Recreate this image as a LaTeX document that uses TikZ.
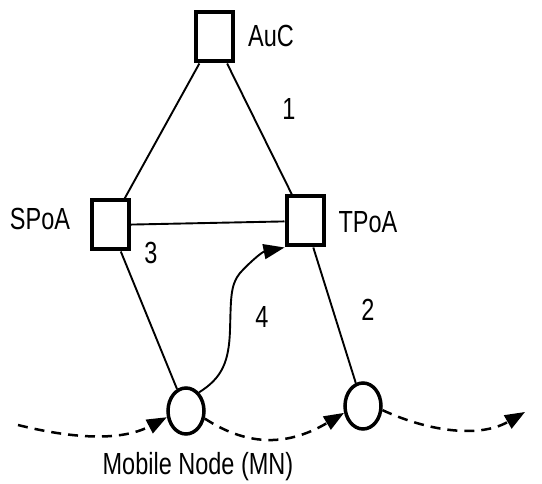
\documentclass[tikz,border=0pt]{standalone}
\usepackage{fontspec}
\setmainfont{Liberation Sans}
\usetikzlibrary{shapes.geometric,arrows.meta}
\newcommand\tallText[1]{\scalebox{1}[1.3]{#1}}
\begin{document}
\begin{tikzpicture}[x=1pt,y=-1pt,
  box/.style={draw, rectangle, line width=4pt, minimum width=37pt, minimum height=49pt, inner sep=0pt},
  host/.style={draw, ellipse, line width=3.5pt, minimum width=36pt, minimum height=46pt, inner sep=0pt},
  link/.style={line width=1.9pt},
  lbl/.style={inner sep=0pt, font=\fontsize{23.5}{23.5}\selectfont},
  move/.style={line width=2.5pt, dash pattern=on 10pt off 7pt, -{Triangle[length=20pt,width=15pt]}},
  handover/.style={line width=1.9pt, -{Triangle[length=21pt,width=15pt]}}]
\useasboundingbox (0,0) rectangle (542,484);

% access network entities
\node[box] (auc)  at (214,37)  {};
\node[box] (spoa) at (110,225) {};
\node[box] (tpoa) at (305,221) {};

% mobile node, before and after handover
\node[host] (mn)  at (186,411) {};
\node[host] (mn2) at (363,406) {};

% names
\node[lbl] (auclbl)  at (271,36)  {\tallText{AuC}};
\node[lbl] (spoalbl) at (40,219)  {\tallText{SPoA}};
\node[lbl] (tpoalbl) at (368,222) {\tallText{TPoA}};
\node[lbl] (mnlbl)   at (198,467) {\tallText{Mobile Node (MN)}};

% step numbers
\node[lbl] (n1) at (289,109) {\tallText{1}};
\node[lbl] (n2) at (368,310) {\tallText{2}};
\node[lbl] (n3) at (151,253) {\tallText{3}};
\node[lbl] (n4) at (262,317) {\tallText{4}};

% links
\draw[link] (auc) -- (spoa);
\draw[link] (auc) -- (tpoa);
\draw[link] (spoa) -- (tpoa);
\draw[link] (spoa) -- (mn);
\draw[link] (tpoa) -- (mn2);

% handover signalling
\draw[handover] (mn.55) .. controls (222,378) and (229,362) .. (230,330)
  .. controls (231,300) and (230,285) .. (240,273)
  .. controls (250,262) and (262,252) .. (tpoa.south west);

% movement path
\coordinate (start) at (18,425);
\coordinate (finish) at (525,412);
\draw[move] (start) .. controls (70,438) and (120,442) .. (mn.198);
\draw[move] (mn.-22) .. controls (250,448) and (290,445) .. (mn2.200);
\draw[move] (mn2.-12) .. controls (430,432) and (480,438) .. (finish);
\end{tikzpicture}
\end{document}
